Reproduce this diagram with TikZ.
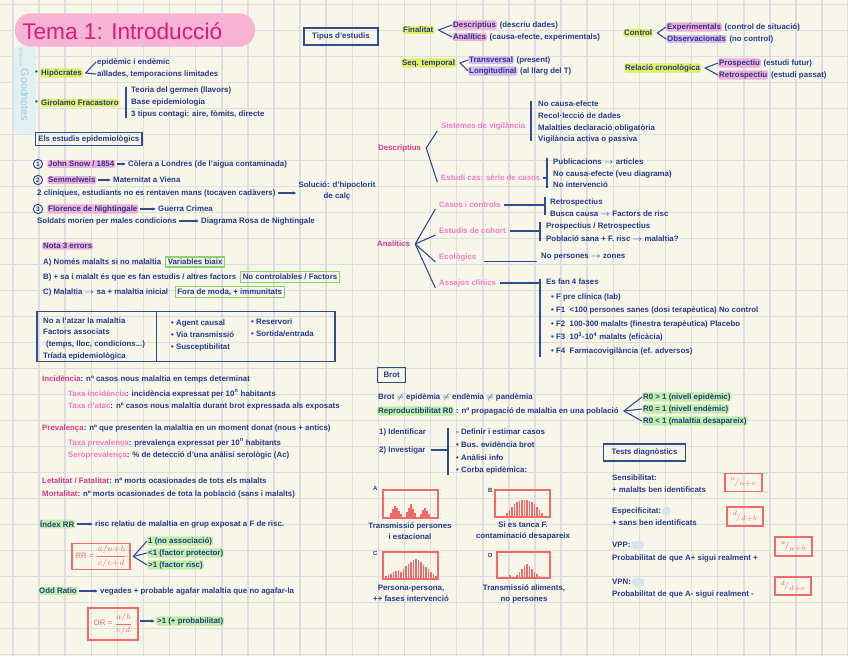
\documentclass[tikz,border=0pt]{standalone}
\usepackage{fontspec}
\setmainfont{Liberation Sans}
\usetikzlibrary{calc,arrows.meta}
\definecolor{paper}{HTML}{F8F5E9}
\definecolor{gridc}{HTML}{DEDDE2}
\definecolor{navy}{HTML}{233C8C}
\definecolor{lineb}{HTML}{2E4D8F}
\definecolor{pinkd}{HTML}{D8378A}
\definecolor{pinkl}{HTML}{F27CC8}
\definecolor{titlec}{HTML}{D61F78}
\definecolor{titlehl}{HTML}{F7B3D3}
\definecolor{hlyel}{HTML}{E2EF5E}
\definecolor{hlpink}{HTML}{F2AED8}
\definecolor{hllav}{HTML}{D8B8EE}
\definecolor{hlgreen}{HTML}{C2EFA6}
\definecolor{hlblue}{HTML}{D3E6F2}
\definecolor{greenbox}{HTML}{8CD46A}
\definecolor{redc}{HTML}{F06A6A}
\definecolor{wmblue}{HTML}{9ACBDD}
\definecolor{wmstrip}{HTML}{E2F0F2}
\begin{document}
\begin{tikzpicture}[x=0.75pt,y=-0.75pt,
 tx/.style={anchor=west,inner sep=0.7pt,text=navy,font=\fontsize{5.9}{8.5}\selectfont\bfseries},
 txp/.style={tx,text=pinkd},
 txl/.style={tx,text=pinkl},
 hiy/.style={tx,fill=hlyel,rounded corners=1.2pt},
 hip/.style={tx,fill=hlpink,rounded corners=1.2pt},
 hil/.style={tx,fill=hllav,rounded corners=1.2pt},
 hig/.style={tx,fill=hlgreen,rounded corners=1.2pt},
 gbox/.style={tx,draw=greenbox,line width=0.8pt,inner sep=1.6pt},
 bbox/.style={tx,draw=lineb,line width=0.9pt,inner sep=2pt},
 rbox/.style={draw=redc,line width=0.9pt,text=redc,font=\fontsize{5.9}{6.8}\selectfont,inner sep=2pt},
 chart/.style={draw=redc,line width=0.9pt,inner sep=0pt},
 lnk/.style={draw=lineb,line width=0.8pt},
 arr/.style={lnk,shorten <=1pt,shorten >=1pt,-{Stealth[length=2.5pt,width=2.5pt]}},
 barline/.style={draw=redc,line width=1.2pt},
 num/.style={circle,draw=lineb,line width=0.7pt,inner sep=0.3pt,text=navy,font=\fontsize{4.8}{5}\selectfont\bfseries,minimum size=7pt},
 captxt/.style={tx,anchor=center,align=center}
]
% paper and grid
\fill[paper] (0,0) rectangle (848,656);
\useasboundingbox (0,0) rectangle (848,656);
\foreach \i in {0,...,32} {\draw[gridc,line width=1.1pt] ({13+26.1*\i},0) -- ({13+26.1*\i},656);}
\foreach \j in {0,...,25} {\draw[gridc,line width=1.1pt] (0,{4.5+26*\j}) -- (848,{4.5+26*\j});}

% watermark
\fill[wmstrip,rounded corners=5pt] (14,46) rectangle (36,134);
\node[rotate=-90,text=wmblue,font=\fontsize{3}{3}\selectfont] (wm0) at (21,58) {Made with};
\node[rotate=-90,text=wmblue,font=\fontsize{8}{8}\selectfont] (wm) at (25,95) {Goodnotes};

% title
\node[fill=titlehl,rounded corners=12pt,minimum width=180pt,minimum height=25pt,inner sep=0pt] (ttlbg) at (135,30) {};
\node[anchor=west,text=titlec,font=\fontsize{17}{18}\selectfont,inner sep=0pt] (ttl) at (22,31) {Tema 1: Introducció};

% Hipocrates / Fracastoro
\node[tx] (b1) at (34,73) {•};
\node[hiy] (hip) at (40,73) {Hipòcrates};
\coordinate (hipA) at ([xshift=2pt]hip.east);
\node[tx] (hip1) at (96,62) {epidèmic i endèmic};
\node[tx] (hip2) at (96,74) {aïllades, temporacions limitades};
\draw[lnk] (hip1.west) -- (hipA) -- (hip2.west);

\node[tx] (b2) at (34,103) {•};
\node[hiy] (fra) at (40,103) {Girolamo Fracastoro};
\coordinate (fraT) at (126,87);
\coordinate (fraB) at (126,118);
\draw[lnk] (fraT) -- (fraB);
\node[tx] (fra1) at (130,90) {Teoria del germen (llavors)};
\node[tx] (fra2) at (130,102) {Base epidemiologia};
\node[tx] (fra3) at (130,114) {3 tipus contagi: aire, fòmits, directe};

\node[bbox] (est) at (35,139) {Els estudis epidemiològics};

% history
\node[num] (n1) at (38,164) {1};
\node[hip] (snow) at (47,164) {John Snow / 1854};
\node[tx] (snow1) at (127,164) {Còlera a Londres (de l'aigua contaminada)};
\draw[arr] (snow) -- (snow1);

\node[num] (n2) at (38,180) {2};
\node[hip] (sem) at (47,180) {Semmelweis};
\node[tx] (sem1) at (112,180) {Maternitat a Viena};
\draw[arr] (sem) -- (sem1);
\node[tx] (sem2) at (36,193) {2 clíniques, estudiants no es rentaven mans (tocaven cadàvers)};
\node[captxt] (sem3) at (337,191) {Solució: d'hipoclorit\\de calç};
\draw[arr] (sem2.east) -- (sem2.east -| sem3.west);

\node[num] (n3) at (38,209) {3};
\node[hip] (flo) at (47,209) {Florence de Nightingale};
\node[tx] (flo1) at (157,209) {Guerra Crimea};
\draw[arr] (flo) -- (flo1);
\node[tx] (flo2) at (36,221) {Soldats morien per males condicions};
\node[tx] (flo3) at (200,221) {Diagrama Rosa de Nightingale};
\draw[arr] (flo2) -- (flo3);

% errors
\node[hip] (nota) at (42,246) {Nota 3 errors};
\node[tx] (ea) at (42,262) {A) Només malalts si no malaltia};
\node[gbox] (eag) at ([xshift=2pt]ea.east) {Variables biaix};
\node[tx] (eb) at (42,277) {B) + sa i malalt és que es fan estudis / altres factors};
\node[gbox] (ebg) at ([xshift=2pt]eb.east) {No controlables / Factors};
\node[tx] (ec) at (42,292) {C) Malaltia $\to$ sa + malaltia inicial};
\node[gbox] (ecg) at ([xshift=4pt]ec.east) {Fora de moda, + immunitats};

% table
\node[draw=lineb,line width=0.9pt,minimum width=223.5pt,minimum height=38pt,inner sep=0pt] (tab) at (186,336.5) {};
\draw[lnk] ($(tab.north west)+(120,0)$) -- ($(tab.south west)+(120,0)$);
\node[tx] (tl1) at (42,321) {No a l'atzar la malaltia};
\node[tx] (tl2) at (42,332) {Factors associats};
\node[tx] (tl3) at (45,344) {(temps, lloc, condicions...)};
\node[tx] (tl4) at (42,356) {Tríada epidemiològica};
\node[tx] (tr1) at (170,323) {• Agent causal};
\node[tx] (tr2) at (170,335) {• Via transmissió};
\node[tx] (tr3) at (170,347) {• Susceptibilitat};
\node[tx] (tr4) at (250,322) {• Reservori};
\node[tx] (tr5) at (250,334) {• Sortida/entrada};

% measures
\node[tx] (inc) at (41,379) {\textcolor{pinkd}{Incidència}: nº casos nous malaltia en temps determinat};
\node[tx] (inc1) at (67,394) {\textcolor{pinkl}{Taxa incidència}: incidència expressat per 10\textsuperscript{n} habitants};
\node[tx] (inc2) at (67,406) {\textcolor{pinkl}{Taxa d'atac}: nº casos nous malaltia durant brot expressada als exposats};
\node[tx] (pre) at (41,428) {\textcolor{pinkd}{Prevalença}: nº que presenten la malaltia en un moment donat (nous + antics)};
\node[tx] (pre1) at (67,443) {\textcolor{pinkl}{Taxa prevalença}: prevalença expressat per 10\textsuperscript{n} habitants};
\node[tx] (pre2) at (67,455) {\textcolor{pinkl}{Seroprevalença}: \% de detecció d'una anàlisi serològic (Ac)};
\node[tx] (let) at (41,481) {\textcolor{pinkd}{Letalitat / Fatalitat}: nº morts ocasionades de tots els malalts};
\node[tx] (mor) at (41,494) {\textcolor{pinkd}{Mortalitat}: nº morts ocasionades de tota la població (sans i malalts)};

% RR
\node[hig] (rr) at (39,524) {Índex RR};
\node[tx] (rr1) at (94,524) {risc relatiu de malaltia en grup exposat a F de risc.};
\draw[arr] (rr) -- (rr1);
\node[rbox,minimum width=43.5pt,minimum height=20pt] (rrf) at (101,556.5) {RR = $\displaystyle\frac{a/a{+}b}{c/c{+}d}$};
\coordinate (rrA) at ([xshift=2pt]rrf.east);
\node[hig] (rr2) at (147,541) {1 (no associació)};
\node[hig] (rr3) at (147,553) {<1 (factor protector)};
\node[hig] (rr4) at (147,565) {>1 (factor risc)};
\draw[lnk] (rr2.west) -- (rrA) -- (rr4.west);
\draw[lnk] (rrA) -- (rr3.west);

% OR
\node[hig] (or) at (38,591) {Odd Ratio};
\node[tx] (or1) at (99,591) {vegades + probable agafar malaltia que no agafar-la};
\draw[arr] (or) -- (or1);
\node[rbox,minimum width=37.5pt,minimum height=24pt] (orf) at (113,624) {OR = $\displaystyle\frac{a/b}{c/d}$};
\node[hig] (or2) at (156,621) {>1 (+ probabilitat)};
\draw[arr] (orf.east |- or2) -- (or2);

% types of studies
\node[bbox,anchor=center,minimum width=55.5pt,minimum height=12.75pt] (tip) at (341,36.5) {Tipus d'estudis};

\node[hiy] (fin) at (402,30) {Finalitat};
\coordinate (finA) at ([xshift=3pt]fin.east);
\node[hip] (fin1) at (452,25) {Descriptius};
\node[tx] (fin1t) at ([xshift=1pt]fin1.east) {(descriu dades)};
\node[hip] (fin2) at (452,37) {Analítics};
\node[tx] (fin2t) at ([xshift=1pt]fin2.east) {(causa-efecte, experimentals)};
\draw[lnk] (fin1.west) -- (finA) -- (fin2.west);

\node[hiy] (seq) at (401,63) {Seq. temporal};
\coordinate (seqA) at ([xshift=3pt]seq.east);
\node[hil] (seq1) at (468,60) {Transversal};
\node[tx] (seq1t) at ([xshift=1pt]seq1.east) {(present)};
\node[hil] (seq2) at (468,71) {Longitudinal};
\node[tx] (seq2t) at ([xshift=1pt]seq2.east) {(al llarg del T)};
\draw[lnk] (seq1.west) -- (seqA) -- (seq2.west);

\node[hiy] (con) at (623,33) {Control};
\coordinate (conA) at ([xshift=3pt]con.east);
\node[hip] (con1) at (666,27) {Experimentals};
\node[tx] (con1t) at ([xshift=1pt]con1.east) {(control de situació)};
\node[hil] (con2) at (666,39) {Observacionals};
\node[tx] (con2t) at ([xshift=1pt]con2.east) {(no control)};
\draw[lnk] (con1.west) -- (conA) -- (con2.west);

\node[hiy] (rel) at (624,68) {Relació cronològica};
\coordinate (relA) at ([xshift=3pt]rel.east);
\node[hip] (rel1) at (718,63) {Prospectiu};
\node[tx] (rel1t) at ([xshift=1pt]rel1.east) {(estudi futur)};
\node[hip] (rel2) at (718,75) {Retrospectiu};
\node[tx] (rel2t) at ([xshift=1pt]rel2.east) {(estudi passat)};
\draw[lnk] (rel1.west) -- (relA) -- (rel2.west);

% descriptive tree
\node[txp] (des) at (377,148) {Descriptius};
\coordinate (desA) at ([xshift=3pt]des.east);
\node[txl] (sv) at (440,126) {Sistemes de vigilància};
\node[txl] (esc) at (440,178) {Estudi cas: sèrie de casos};
\draw[lnk] ([xshift=-2pt]sv.south west) -- (desA) -- ([xshift=-2pt]esc.south west);
\coordinate (svT) at (531,101);
\coordinate (svB) at (531,141);
\draw[lnk] (svT) -- (svB);
\node[tx] (sv1) at (537,104) {No causa-efecte};
\node[tx] (sv2) at (537,116) {Recol·lecció de dades};
\node[tx] (sv3) at (537,128) {Malalties declaració obligatòria};
\node[tx] (sv4) at (537,139) {Vigilància activa o passiva};
\coordinate (escT) at (547,158);
\coordinate (escB) at (547,188);
\draw[lnk] ([xshift=1pt]esc.east) -- (esc.east -| escT);
\draw[lnk] (escT) -- (escB);
\node[tx] (esc1) at (552,162) {Publicacions $\to$ articles};
\node[tx] (esc2) at (552,174) {No causa-efecte (veu diagrama)};
\node[tx] (esc3) at (552,185) {No intervenció};

% analytic tree
\node[txp] (ana) at (376,244) {Analítics};
\coordinate (anaA) at ([xshift=3pt]ana.east);
\node[txl] (cc) at (438,205) {Casos i controls};
\node[txl] (coh) at (438,231) {Estudis de cohort};
\node[txl] (eco) at (438,257) {Ecològics};
\node[txl] (ass) at (438,283) {Assajos clínics};
\foreach \n in {cc,coh,eco,ass} {\draw[lnk] (anaA) -- ([xshift=-2pt]\n.south west);}

\coordinate (ccT) at (545,197);
\coordinate (ccB) at (545,215);
\draw[lnk] ([xshift=2pt]cc.east) -- (cc.east -| ccT);
\draw[lnk] (ccT) -- (ccB);
\node[tx] (cc1) at (549,202) {Retrospectius};
\node[tx] (cc2) at (549,214) {Busca causa $\to$ Factors de risc};

\coordinate (cohT) at (540,222);
\coordinate (cohB) at (540,241);
\draw[lnk] ([xshift=2pt]coh.east) -- (coh.east -| cohT);
\draw[lnk] (cohT) -- (cohB);
\node[tx] (coh1) at (545,226) {Prospectius / Retrospectius};
\node[tx] (coh2) at (545,239) {Població sana + F. risc $\to$ malaltia?};

\node[tx] (eco1) at (540,257) {No persones $\to$ zones};
\draw[lnk] ([xshift=5pt]eco.south east) -- ([xshift=-2pt]eco.south east -| eco1.west);

\coordinate (assT) at (540,279);
\coordinate (assB) at (540,357);
\draw[lnk] ([xshift=2pt]ass.east) -- (ass.east -| assT);
\draw[lnk] (assT) -- (assB);
\node[tx] (ass0) at (545,282) {Es fan 4 fases};
\node[tx] (ass1) at (550,297) {• F pre clínica (lab)};
\node[tx] (ass2) at (550,310) {• F1 \ <100 persones sanes (dosi terapèutica) No control};
\node[tx] (ass3) at (550,324) {• F2 \ 100-300 malalts (finestra terapèutica) Placebo};
\node[tx] (ass4) at (550,337) {• F3 \ 10\textsuperscript{3}-10\textsuperscript{4} malalts (eficàcia)};
\node[tx] (ass5) at (550,351) {• F4 \ Farmacovigilància (ef. adversos)};

% brot
\node[bbox,minimum width=21pt,minimum height=11.5pt] (brot) at (377,375) {Brot};
\node[tx] (br1) at (377,397) {Brot $\neq$ epidèmia $\neq$ endèmia $\neq$ pandèmia};
\node[hig] (r0) at (377,411) {Reproductibilitat R0};
\node[tx] (r0t) at ([xshift=0.5pt]r0.east) {: nº propagació de malaltia en una població};
\coordinate (r0A) at ([xshift=3pt]r0t.east);
\node[hig] (r01) at (642,397) {R0 > 1 (nivell epidèmic)};
\node[hig] (r02) at (642,409) {R0 = 1 (nivell endèmic)};
\node[hig] (r03) at (642,421) {R0 < 1 (malaltia desapareix)};
\draw[lnk] (r01.west) -- (r0A) -- (r03.west);
\draw[lnk] (r0A) -- (r02.west);

\node[tx] (id1) at (378,432) {1) Identificar};
\node[tx] (id2) at (378,450) {2) Investigar};
\coordinate (idT) at (448,428);
\coordinate (idB) at (448,475);
\draw[lnk] ([xshift=3pt]id2.east) -- (id2.east -| idT);
\draw[lnk] (idT) -- (idB);
\node[tx] (inv1) at (455,432) {- Definir i estimar casos};
\node[tx] (inv2) at (455,445) {• Bus. evidència brot};
\node[tx] (inv3) at (455,458) {• Anàlisi info};
\node[tx] (inv4) at (455,470) {• Corba epidèmica:};

% epidemic curves
\node[tx,font=\fontsize{4.5}{5}\selectfont\bfseries] (la) at (372,488) {A};
\node[tx,font=\fontsize{4.5}{5}\selectfont\bfseries] (lb) at (487,490) {B};
\node[tx,font=\fontsize{4.5}{5}\selectfont\bfseries] (lc) at (372,553) {C};
\node[tx,font=\fontsize{4.5}{5}\selectfont\bfseries] (ld) at (487,555) {D};
\node[chart,minimum width=41.25pt,minimum height=21pt] (cha) at (410.5,504) {};
\node[chart,minimum width=41.25pt,minimum height=20.25pt] (chb) at (522.5,503.5) {};
\node[chart,minimum width=41.25pt,minimum height=20.25pt] (chc) at (410.5,565.5) {};
\node[chart,minimum width=39.75pt,minimum height=19.5pt] (chd) at (523.5,565) {};
\foreach \x/\h in {391/5,393/9,395/12,397/10,399/7,401/4,407/6,409/10,411/14,413/9,415/5,421/4,423/8,425/10,427/7,429/4}
  {\draw[barline] (\x,517.5) -- (\x,{517.5-\h});}
\foreach \x/\h in {507/4,509.5/7,512/10,514.5/13,517/15,519.5/16,522/17,524.5/17,527/17,529.5/16,532/15,534.5/13,537/10,539.5/7,542/4}
  {\draw[barline] (\x,517) -- (\x,{517-\h});}
\foreach \x/\h in {386/3,388.5/4,391/5,393.5/7,396/8,398.5/9,401/7,403.5/10,406/13,408.5/15,411/17,413.5/19,416/20,418.5/19,421/17,423.5/14,426/12,428.5/10,431/7,433.5/5,436/3}
  {\draw[barline] (\x,579) -- (\x,{579-\h});}
\foreach \x/\h in {510/3,517/3,519.5/6,522/9,524.5/12,527/14,529.5/12,532/9,534.5/6,537/4,539.5/2}
  {\draw[barline] (\x,578) -- (\x,{578-\h});}
\node[captxt] (capa) at (410,531) {Transmissió persones\\i estacional};
\node[captxt] (capb) at (523,531) {Si es tanca F.\\contaminació desapareix};
\node[captxt] (capc) at (411,593) {Persona-persona,\\++ fases intervenció};
\node[captxt] (capd) at (524,594) {Transmissió aliments,\\no persones};

% diagnostic tests
\node[bbox,anchor=center,minimum width=62pt,minimum height=12.75pt] (tst) at (644.5,452.5) {Tests diagnòstics};
\node[tx] (sen) at (611,478) {Sensibilitat:};
\node[tx] (sen1) at (611,490) {+ malalts ben identificats};
\node[rbox,minimum width=27.75pt,minimum height=14pt] (senf) at (743.5,482.5) {$^{a}\!/_{a+c}$};
\node[tx] (esp) at (611,511) {Especificitat:};
\fill[hlblue,rounded corners=2pt] ($(esp.east)+(0,-4)$) rectangle ++(8,8);
\node[tx] (esp1) at (611,523) {+ sans ben identificats};
\node[rbox,minimum width=27pt,minimum height=14.25pt] (espf) at (745,516.5) {$^{d}\!/_{d+b}$};
\node[tx] (vpp) at (611,545) {VPP:};
\fill[hlblue,rounded corners=2pt] ($(vpp.east)+(0,-4)$) rectangle ++(12,8);
\node[tx] (vpp1) at (611,558) {Probabilitat de que A+ sigui realment +};
\node[rbox,minimum width=27.75pt,minimum height=14.25pt] (vppf) at (793.5,546.5) {$^{a}\!/_{a+b}$};
\node[tx] (vpn) at (611,582) {VPN:};
\fill[hlblue,rounded corners=2pt] ($(vpn.east)+(0,-4)$) rectangle ++(12,8);
\node[tx] (vpn1) at (611,594) {Probabilitat de que A- sigui realment -};
\node[rbox,minimum width=27pt,minimum height=13.5pt] (vpnf) at (793,586) {$^{d}\!/_{d+c}$};
\end{tikzpicture}
\end{document}
